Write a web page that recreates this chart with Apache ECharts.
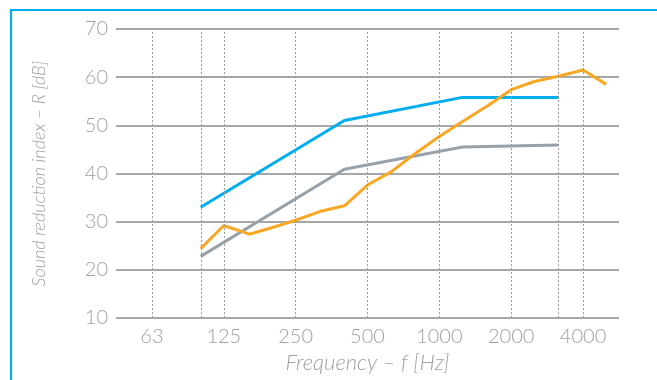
<!DOCTYPE html>
<html><head><meta charset="utf-8">
<script src="https://cdn.jsdelivr.net/npm/echarts@6/dist/echarts.min.js"></script>
<style>html,body{margin:0;padding:0;background:#fff}#c{width:657px;height:380px}</style>
</head><body><div id="c"></div>
<script>
// Frequencies in Hz, values in dB
const tickLabels = ['63','125','250','500','1000','2000','4000'];
const tickFreqs = [62.5,125,250,500,1000,2000,4000];
const gridFreqs = [62.5,100,125,250,500,1000,2000,3150,4000];
const blueFreqs = [100,400,1250,3150];
const blueValues = [33,51,55.8,55.8];
const grayFreqs = [100,400,1250,3150];
const grayValues = [22.8,40.9,45.5,45.9];
const orangeFreqs = [100,125,160,200,250,315,400,500,630,800,1000,1250,1600,2000,2500,3150,4000,5000];
const orangeValues = [24.4,29.2,27.4,28.8,30.3,32.1,33.3,37.6,40.4,44.3,47.7,50.8,54.1,57.4,59.1,60.2,61.5,58.5];

// octave position on the axis (1000 Hz -> 4)
const pos = f => Math.log2(f / 1000) + 4;
const pair = (fs, vs) => fs.map((f, i) => [pos(f), vs[i]]);
const tickPos = tickFreqs.map(pos);

const FONT = 'Lato, "Open Sans", sans-serif';
const GREY = '#a0a0a0';

const chart = echarts.init(document.getElementById('c'), null, {renderer: 'canvas'});
chart.setOption({
  animation: false,
  grid: {left: 116, right: 38, top: 29, bottom: 62},
  xAxis: {
    type: 'value', min: -0.5, max: 6.5,
    name: 'Frequency – f [Hz]', nameLocation: 'middle', nameGap: 33,
    nameTextStyle: {fontFamily: FONT, fontSize: 22, fontStyle: 'italic', fontWeight: 300, color: GREY},
    axisLine: {show: false}, axisTick: {show: false}, splitLine: {show: false},
    axisLabel: {
      customValues: tickPos, margin: 9,
      fontFamily: FONT, fontSize: 20, fontWeight: 300, color: GREY,
      formatter: v => { const i = tickPos.findIndex(p => Math.abs(p - v) < 1e-6); return i >= 0 ? tickLabels[i] : ''; }
    }
  },
  yAxis: {
    type: 'value', min: 10, max: 70, interval: 10,
    name: 'Sound reduction index – R [dB]', nameLocation: 'middle', nameGap: 68,
    nameTextStyle: {fontFamily: FONT, fontSize: 18, fontStyle: 'italic', fontWeight: 300, color: GREY},
    axisLine: {show: false}, axisTick: {show: false},
    axisLabel: {margin: 8, fontFamily: FONT, fontSize: 20, fontWeight: 300, color: GREY},
    splitLine: {lineStyle: {color: '#8a8a8a', width: 1.5}}
  },
  graphic: [{
    type: 'rect', silent: true, z: 100,
    shape: {x: 11, y: 10, width: 700, height: 420},
    style: {fill: 'none', stroke: '#00aeef', lineWidth: 2.2}
  }],
  series: [
    {
      type: 'line', data: [], silent: true,
      markLine: {
        silent: true, symbol: 'none', label: {show: false},
        lineStyle: {type: [2, 2], color: '#9a9a9a', width: 1},
        data: gridFreqs.map(f => ({xAxis: pos(f)}))
      }
    },
    {type: 'line', data: pair(grayFreqs, grayValues), showSymbol: false,
      lineStyle: {color: '#98a1a8', width: 3}, itemStyle: {color: '#98a1a8'}},
    {type: 'line', data: pair(blueFreqs, blueValues), showSymbol: false,
      lineStyle: {color: '#00aeef', width: 3}, itemStyle: {color: '#00aeef'}},
    {type: 'line', data: pair(orangeFreqs, orangeValues), showSymbol: false,
      lineStyle: {color: '#f9a825', width: 3}, itemStyle: {color: '#f9a825'}}
  ]
});
</script></body></html>
